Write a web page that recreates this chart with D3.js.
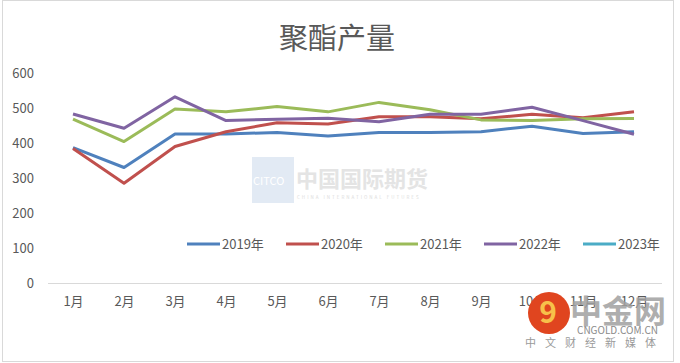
<!DOCTYPE html>
<html>
<head>
<meta charset="utf-8">
<script src="https://cdn.jsdelivr.net/npm/d3@7"></script>
<style>
  body { margin: 0; background: #fff; }
  text { font-family: "Noto Sans CJK SC", "Microsoft YaHei", sans-serif; }
</style>
</head>
<body>
<svg id="chart" width="680" height="363"></svg>
<script>
var months = ['1月', '2月', '3月', '4月', '5月', '6月', '7月', '8月', '9月', '10月', '11月', '12月']
  , yTicks = [0, 100, 200, 300, 400, 500, 600]
  , seriesNames = ['2019年', '2020年', '2021年', '2022年', '2023年']
  , v2019 = [387, 330, 426, 426, 430, 420, 430, 430, 432, 448, 427, 432]
  , v2020 = [384, 285, 390, 432, 458, 454, 475, 475, 469, 482, 472, 489]
  , v2021 = [468, 404, 497, 489, 504, 489, 516, 495, 466, 464, 469, 470]
  , v2022 = [483, 442, 532, 464, 468, 471, 461, 482, 482, 502, 464, 425]
  , v2023 = []
  , colors = ['#4f81bd', '#c0504d', '#9bbb59', '#8064a2', '#4bacc6']

var svg = d3.select('svg#chart')

// chart frame
svg.append('rect')
  .attr('x', 2.5).attr('y', 0.5).attr('width', 671).attr('height', 361)
  .attr('fill', '#fff').attr('stroke', '#d9d9d9')

var x = d3.scalePoint().domain(months).range([73, 634])
  , y = d3.scaleLinear().domain([0, 600]).range([283, 73])

// watermark
svg.append('rect').attr('x', 252).attr('y', 157).attr('width', 42).attr('height', 46)
  .attr('fill', '#dbe5f1').attr('opacity', 0.8)
svg.append('text').attr('x', 253).attr('y', 185).attr('font-size', 11)
  .attr('font-family', 'Liberation Serif').attr('fill', '#fff').text('CITCO')
svg.append('text').attr('x', 296).attr('y', 187).attr('font-size', 22)
  .attr('fill', '#e4e4e4').attr('font-weight', 'bold').text('中国国际期货')
svg.append('text').attr('x', 297).attr('y', 199).attr('font-size', 4.5)
  .attr('fill', '#dcdcdc').attr('letter-spacing', 2).text('CHINA INTERNATIONAL FUTURES')

svg.append('text')
  .attr('x', 337).attr('y', 49)
  .attr('text-anchor', 'middle')
  .attr('font-size', 29)
  .attr('fill', '#595959')
  .text('聚酯产量')

var yAxis = svg.append('g')
  .attr('transform', 'translate(48,0)')
  .call(d3.axisLeft(y).tickValues(yTicks).tickSize(0).tickPadding(14))
yAxis.select('.domain').remove()
yAxis.selectAll('text').attr('font-size', 13).attr('fill', '#595959')
  .attr('font-family', 'Liberation Sans, sans-serif')

var xAxis = svg.append('g')
  .attr('transform', 'translate(0,' + y(0) + ')')
  .call(d3.axisBottom(x).tickSize(0).tickPadding(14))
xAxis.select('.domain').attr('d', 'M48,0.5H662').attr('stroke', '#d9d9d9')
xAxis.selectAll('text').attr('font-size', 13).attr('fill', '#595959')

var allSeries = [v2019, v2020, v2021, v2022, v2023]
var line = d3.line()
  .x(function(d, i) { return x(months[i]) })
  .y(function(d) { return y(d) })

allSeries.forEach(function(vals, i) {
  if (!vals.length) return
  svg.append('path')
    .datum(vals)
    .attr('d', line)
    .attr('fill', 'none')
    .attr('stroke', colors[i])
    .attr('stroke-width', 3)
    .attr('stroke-linejoin', 'round')
})

// legend
var legend = svg.append('g').attr('transform', 'translate(187,244)')
seriesNames.forEach(function(name, i) {
  var g = legend.append('g').attr('transform', 'translate(' + (i * 99) + ',0)')
  g.append('line').attr('x1', 0).attr('x2', 33).attr('y1', 0).attr('y2', 0)
    .attr('stroke', colors[i]).attr('stroke-width', 3)
  g.append('text').attr('x', 35).attr('y', 5).attr('font-size', 13)
    .attr('fill', '#595959').text(name)
})

// cngold watermark
var wm = svg.append('g').attr('transform', 'translate(549,313)')
wm.append('circle').attr('r', 21).attr('fill', '#e0451f')
wm.append('text').attr('x', -1).attr('y', 10).attr('text-anchor', 'middle')
  .attr('font-size', 30).attr('font-weight', 'bold').attr('fill', '#f7c04a').text('9')
wm.append('text').attr('x', 21).attr('y', 10).attr('font-size', 32)
  .attr('font-weight', 'bold').attr('fill', '#a0a0a0').attr('opacity', 0.85).text('中金网')
wm.append('text').attr('x', 28).attr('y', 21).attr('font-size', 10)
  .attr('fill', '#8a8a8a').attr('font-family', 'Liberation Sans').text('CNGOLD.COM.CN')
wm.append('text').attr('x', -24).attr('y', 34).attr('font-size', 11)
  .attr('fill', '#9a9a9a').attr('letter-spacing', 9).text('中文财经新媒体')
</script>
</body>
</html>
